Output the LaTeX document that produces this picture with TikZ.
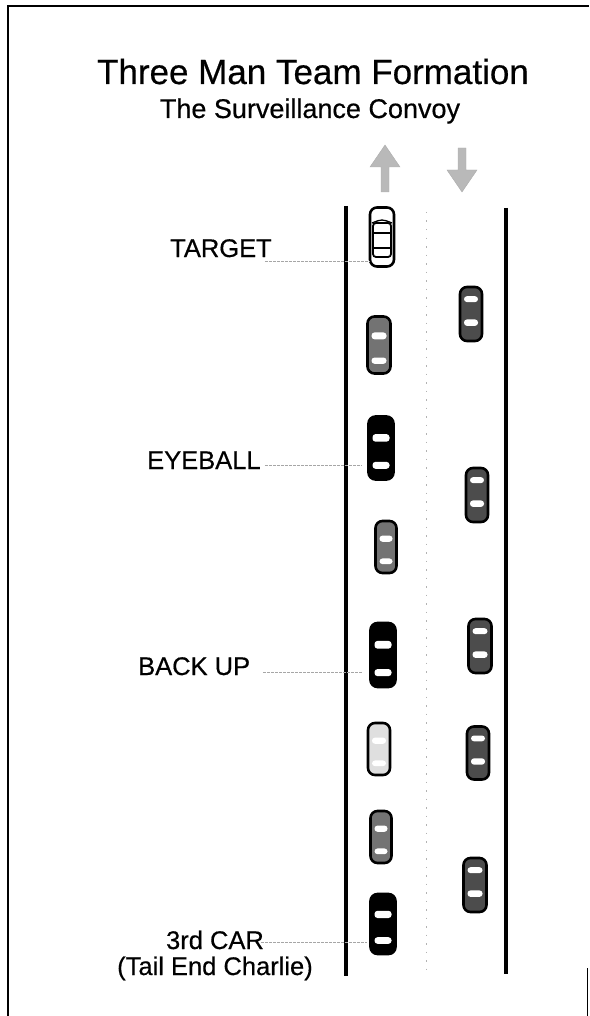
\documentclass[tikz,border=0pt]{standalone}
\usepackage{fontspec}
\setmainfont{Liberation Sans}[FakeBold=0.5]
\begin{document}
\begin{tikzpicture}[x=1pt,y=-1pt,
  frameline/.style={line width=1.3pt},
  roadedge/.style={line width=4.5pt},
  laneline/.style={gray!60,line width=0.8pt,dash pattern=on 1.5pt off 7pt},
  flowarrow/.style={fill=gray!55,draw=gray!65,line width=0.4pt},
  carbody/.style={draw=black,line width=2.6pt,rounded corners=7pt},
  leader/.style={gray!70,line width=0.7pt,dash pattern=on 3pt off 1pt},
  label/.style={inner sep=0pt,font=\fontsize{25.5}{26}\selectfont},
]
\useasboundingbox (0,0) rectangle (589,1016);

% page frame
\draw[frameline] (8,1016) -- (8,6) -- (589,6);
\draw[line width=1pt] (587.5,968) -- (587.5,1016);

% headings
\node[inner sep=0pt,anchor=base,font=\fontsize{35}{40}\selectfont] (title) at (313,84) {Three Man Team Formation};
\node[inner sep=0pt,anchor=base,font=\fontsize{27}{30}\selectfont] (subtitle) at (310,118) {The Surveillance Convoy};

% direction of traffic in each lane
\fill[flowarrow] (385,145) -- (400,167) -- (389,167) -- (389,192) -- (381,192) -- (381,167) -- (370,167) -- cycle;
\fill[flowarrow] (462,192) -- (477,170) -- (466,170) -- (466,148) -- (458,148) -- (458,170) -- (447,170) -- cycle;

% road
\draw[roadedge] (346,206) -- (346,976);
\draw[roadedge] (506,208) -- (506,974);
\draw[laneline] (426,212) -- (426,975);

% car: x, y, width, length, body colour, rotation
\newcommand{\carshape}[6]{%
  \begin{scope}[shift={(#1,#2)},rotate=#6]
    \draw[carbody,fill=#5] (-#3/2,-#4/2) rectangle (#3/2,#4/2);
    \fill[white,rounded corners=3pt] (-#3/2+4,-#4/2+0.28*#4) rectangle (#3/2-4,-#4/2+0.40*#4);
    \fill[white,rounded corners=3pt] (-#3/2+4,-#4/2+0.72*#4) rectangle (#3/2-4,-#4/2+0.83*#4);
  \end{scope}}

% the target: a light car shown in outline
\begin{scope}[shift={(382,237)}]
  \draw[carbody,fill=white] (-12,-29.5) rectangle (12,29.5);
  \draw[line width=1.8pt,rounded corners=3pt] (-9,-14) rectangle (9,20);
  \draw[line width=1.5pt] (-9,-4) -- (9,-4);
  \draw[line width=1.5pt] (-9,11) -- (9,11);
  \draw[line width=1.3pt] (-10,-14) .. controls (0,-18) .. (10,-14);
\end{scope}

% northbound lane
\carshape{379}{345}{23}{57}{black!55}{0}
\carshape{381}{448}{25}{63}{black}{0}
\carshape{386}{547}{21}{52}{black!55}{0}
\carshape{383}{655}{25}{64}{black}{0}
\carshape{379}{749}{22}{52}{gray!25}{0}
\carshape{381}{837}{21}{52}{black!55}{0}
\carshape{383}{924}{25}{60}{black}{0}

% southbound lane
\carshape{471}{314}{22}{54}{black!70}{180}
\carshape{477}{495}{22}{54}{black!70}{180}
\carshape{480}{646}{23}{54}{black!70}{180}
\carshape{478}{753}{22}{53}{black!70}{180}
\carshape{475}{885}{23}{54}{black!70}{180}

% leader end points beside the cars
\coordinate (targetcar) at (370,261);
\coordinate (eyeballcar) at (362,465);
\coordinate (backupcar) at (363,672);
\coordinate (thirdcar) at (367,942);

% labels
\node[label,anchor=base west] (target) at (170,257) {TARGET};
\node[label,anchor=base west] (eyeball) at (147,469) {EYEBALL};
\node[label,anchor=base west] (backup) at (138,675) {BACK UP};
\node[label,anchor=base,align=center] (third) at (215,975) {3rd CAR\\(Tail End Charlie)};

\draw[leader] ([shift={(-7,4)}]target.base east) -- (targetcar);
\draw[leader] ([shift={(4,-4)}]eyeball.base east) -- (eyeballcar);
\draw[leader] ([shift={(13,-3)}]backup.base east) -- (backupcar);
\draw[leader] (thirdcar -| third.north east) ++(-52,0) -- (thirdcar);
\end{tikzpicture}
\end{document}
